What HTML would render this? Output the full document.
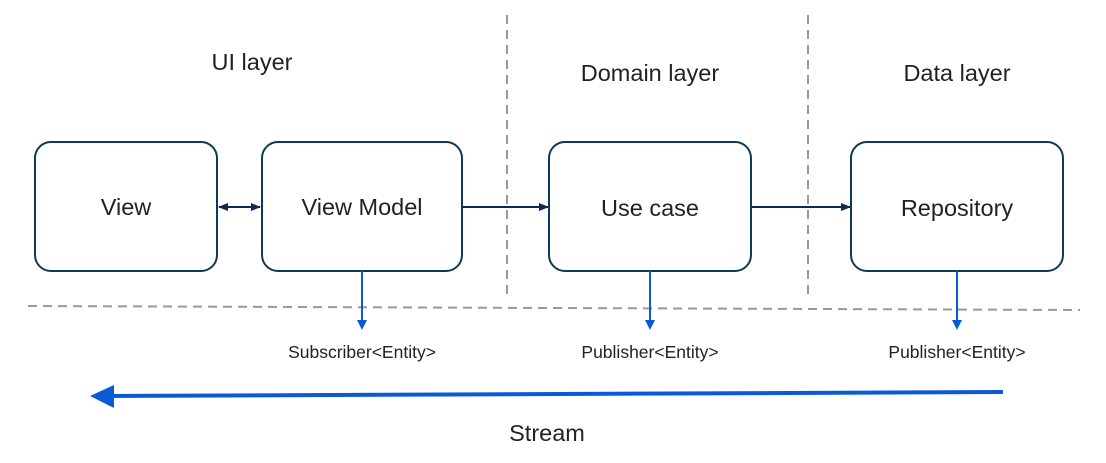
<!DOCTYPE html>
<html><head><style>body{margin:0;background:#fff}svg{display:block}</style></head><body>
<svg width="1106" height="463" viewBox="0 0 1106 463" xmlns="http://www.w3.org/2000/svg" font-family="Liberation Sans, sans-serif">
<defs>
<marker id="a" markerWidth="10" markerHeight="8" refX="9" refY="4" orient="auto" markerUnits="userSpaceOnUse"><path d="M0,0L10,4L0,8z" fill="#0a2a5c"/></marker>
<marker id="as" markerWidth="10" markerHeight="8" refX="1" refY="4" orient="auto" markerUnits="userSpaceOnUse"><path d="M10,0L0,4L10,8z" fill="#0a2a5c"/></marker>
</defs>
<g stroke="#999" stroke-width="2" stroke-dasharray="9,6" fill="none">
<line x1="507" y1="15" x2="507" y2="295"/>
<line x1="808" y1="15" x2="808" y2="295"/>
<line x1="28" y1="306" x2="1080" y2="310"/>
</g>
<g fill="#fff" stroke="#0d3a55" stroke-width="2">
<rect x="35" y="142" width="182" height="129" rx="16"/>
<rect x="262" y="142" width="200" height="129" rx="16"/>
<rect x="549" y="142" width="202" height="129" rx="16"/>
<rect x="851" y="142" width="212" height="129" rx="16"/>
</g>
<g stroke="#0a2a5c" stroke-width="2">
<line x1="219" y1="207" x2="260" y2="207" marker-end="url(#a)" marker-start="url(#as)"/>
<line x1="462" y1="207" x2="548" y2="207" marker-end="url(#a)"/>
<line x1="751" y1="207" x2="850" y2="207" marker-end="url(#a)"/>
</g>
<g stroke="#0a5ad8" stroke-width="2" fill="#0a5ad8">
<line x1="362" y1="271" x2="362" y2="323"/><path d="M357,320L367,320L362,330z" stroke="none"/>
<line x1="650" y1="271" x2="650" y2="323"/><path d="M645,320L655,320L650,330z" stroke="none"/>
<line x1="957" y1="271" x2="957" y2="323"/><path d="M952,320L962,320L957,330z" stroke="none"/>
<line x1="1003" y1="392" x2="110" y2="396" stroke-width="4"/>
<path d="M90,396L114,385L114,408z" stroke="none"/>
</g>
<g fill="#222" font-size="23.5" text-anchor="middle">
<text x="252" y="70">UI layer</text>
<text x="650" y="81">Domain layer</text>
<text x="957" y="81">Data layer</text>
<text x="126" y="215">View</text>
<text x="362" y="215">View Model</text>
<text x="650" y="216">Use case</text>
<text x="957" y="216">Repository</text>
<text x="547" y="441">Stream</text>
</g>
<g fill="#222" font-size="17.5" text-anchor="middle">
<text x="362" y="358">Subscriber&lt;Entity&gt;</text>
<text x="650" y="358">Publisher&lt;Entity&gt;</text>
<text x="957" y="358">Publisher&lt;Entity&gt;</text>
</g>
</svg>
</body></html>
